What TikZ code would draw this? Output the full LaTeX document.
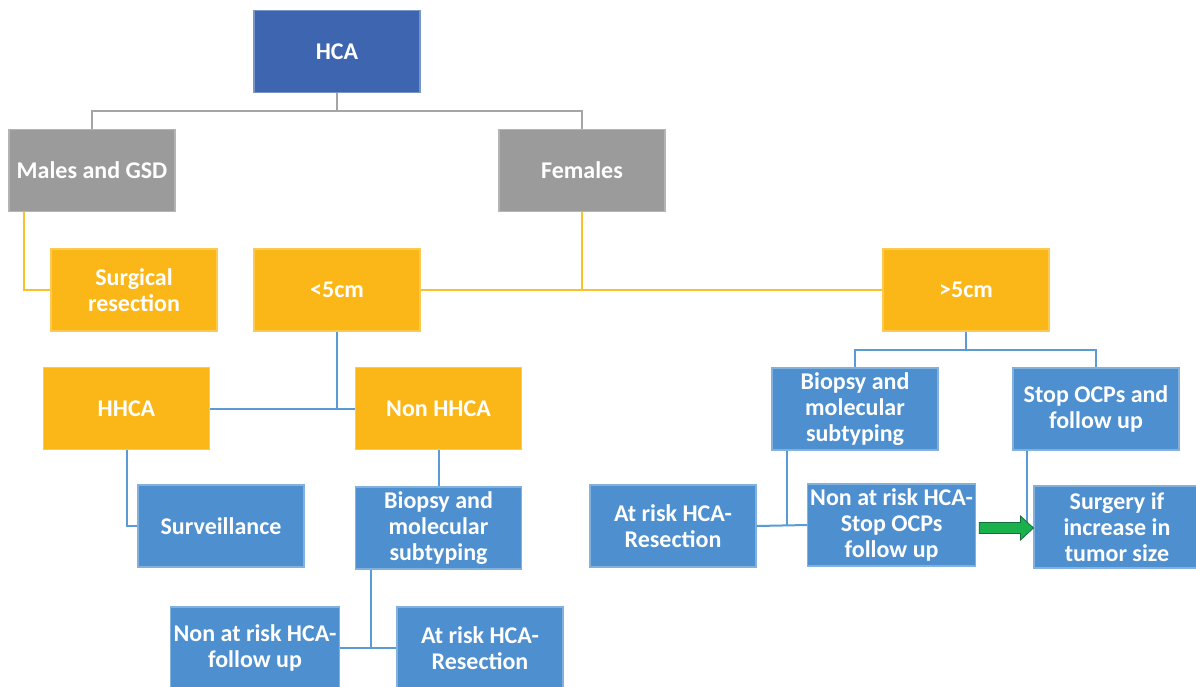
\documentclass[tikz,border=0pt]{standalone}
\usepackage{fontspec}
\setmainfont{Carlito}
\usepackage{xcolor}
\usepackage{tikz}
\usetikzlibrary{positioning,calc}

\definecolor{hcablue}{RGB}{62,102,176}
\definecolor{sexgray}{RGB}{155,155,155}
\definecolor{sizegold}{RGB}{251,183,24}
\definecolor{stepblue}{RGB}{77,143,207}
\definecolor{linegray}{RGB}{165,165,165}
\definecolor{linegold}{RGB}{251,192,45}
\definecolor{lineblue}{RGB}{91,155,213}
\definecolor{arrowgreen}{RGB}{26,176,75}
\definecolor{arrowedge}{RGB}{20,110,60}

\begin{document}
\begin{tikzpicture}[
    x=0.75pt, y=-0.75pt,
    box/.style={rectangle, text=white, align=center, inner sep=2pt,
        minimum width=124.5pt, minimum height=61.5pt,
        font=\fontsize{18pt}{19.5pt}\selectfont\bfseries, line width=0.8pt},
    rootbox/.style={box, fill=hcablue, draw=hcablue!70!white},
    groupbox/.style={box, fill=sexgray, draw=sexgray!75!white},
    sizebox/.style={box, fill=sizegold, draw=sizegold!75!white},
    actionbox/.style={box, fill=stepblue, draw=stepblue!70!white},
    graylink/.style={draw=linegray, line width=1.5pt},
    goldlink/.style={draw=linegold, line width=1.5pt},
    bluelink/.style={draw=lineblue, line width=1.5pt},
    greenarrow/.style={fill=arrowgreen, draw=arrowedge, line width=0.6pt, line join=miter}
]
    \useasboundingbox (0,0) rectangle (1196,686);

    % top levels
    \node[rootbox] (hca) at (337,51.5) {HCA};
    \node[groupbox] (males) at (92,170.5) {Males and GSD};
    \node[groupbox] (females) at (582,170.5) {Females};

    % size branches
    \node[sizebox] (surgical) at (134,290) {Surgical\\resection};
    \node[sizebox] (lt5) at (337,290) {<5cm};
    \node[sizebox] (gt5) at (966,290) {>5cm};

    % <5cm branch
    \node[sizebox] (hhca) at (126.5,408.5) {HHCA};
    \node[sizebox] (nonhhca) at (438.5,408.5) {Non HHCA};
    \node[actionbox] (surv) at (221,526) {Surveillance};
    \node[actionbox] (biopsyL) at (438.5,528) {Biopsy and\\molecular\\subtyping};
    \node[actionbox] (nonriskL) at (255,648) {Non at risk HCA-\\follow up};
    \node[actionbox] (riskL) at (480,648) {At risk HCA-\\Resection};

    % >5cm branch
    \node[actionbox] (biopsyR) at (855,409) {Biopsy and\\molecular\\subtyping};
    \node[actionbox] (stopocp) at (1096,409) {Stop OCPs and\\follow up};
    \node[actionbox] (riskR) at (673,526) {At risk HCA-\\Resection};
    \node[actionbox] (nonriskR) at (891.6,525) {Non at risk HCA-\\Stop OCPs\\follow up};
    \node[actionbox] (surgery) at (1117,527) {Surgery if\\increase in\\tumor size};

    % connectors
    \draw[graylink] (hca.south) -- ++(0,18) -| (males.north);
    \draw[graylink] (hca.south) -- ++(0,18) -| (females.north);

    \draw[goldlink] ($(males.south west)+(16,0)$) |- (surgical.west);
    \draw[goldlink] (lt5.east) -- (gt5.west);
    \draw[goldlink] (females.south) -- (females.south |- lt5.east);

    \draw[bluelink] (lt5.south) -- (lt5.south |- hhca.east);
    \draw[bluelink] (hhca.east) -- (nonhhca.west);
    \draw[bluelink] (hhca.south) |- (surv.west);
    \draw[bluelink] (nonhhca.south) -- (biopsyL.north);
    \draw[bluelink] ($(biopsyL.south west)+(16,0)$) coordinate (bl) -- (bl |- nonriskL.east);
    \draw[bluelink] (nonriskL.east) -- (riskL.west);

    \draw[bluelink] (gt5.south) -- ++(0,18) -| (biopsyR.north);
    \draw[bluelink] (gt5.south) -- ++(0,18) -| (stopocp.north);
    \draw[bluelink] ($(biopsyR.south west)+(16,0)$) coordinate (br) -- (br |- riskR.east);
    \draw[bluelink] (riskR.east) -- (nonriskR.west);
    \draw[bluelink] ($(stopocp.south west)+(15,0)$) |- (surgery.west);

    % green arrow
    \coordinate (ga) at ($(nonriskR.east)+(3,3)$);
    \coordinate (gb) at ($(surgery.west)+(0,1)$);
    \draw[greenarrow] ($(ga)+(0,-5.5)$) -- ($(gb)+(-13,-5.5)$) -- ($(gb)+(-13,-12)$) -- (gb)
        -- ($(gb)+(-13,12)$) -- ($(gb)+(-13,5.5)$) -- ($(ga)+(0,5.5)$) -- cycle;
\end{tikzpicture}
\end{document}
